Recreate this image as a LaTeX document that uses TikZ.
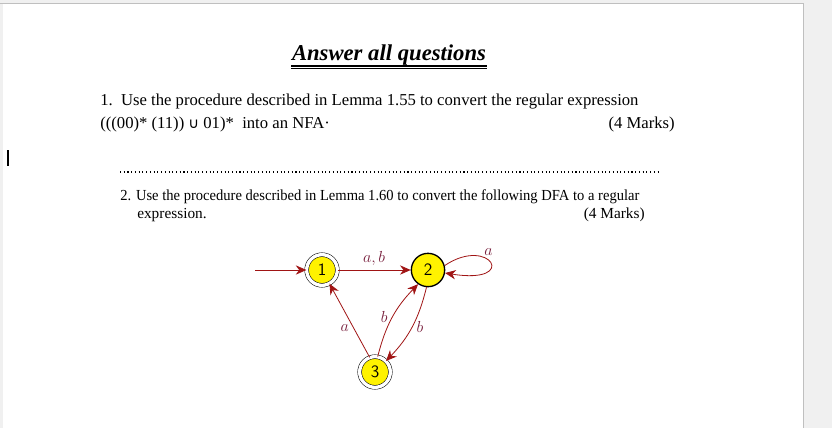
\documentclass[tikz,border=0pt]{standalone}
\usepackage{fontspec}
\setmainfont{Liberation Serif}
\newfontfamily\symfont{DejaVu Sans}
\usetikzlibrary{arrows.meta}
\definecolor{edge}{RGB}{160,20,20}
\definecolor{lab}{RGB}{120,30,60}
\tikzset{
 st/.style={circle,draw,fill=yellow,minimum size=23pt,inner sep=0pt,font=\sffamily\fontsize{13}{13}\selectfont},
 acc/.style={st,double,double distance=2.5pt},
 tr/.style={draw=edge,-{Stealth[length=8pt,width=7pt]},line width=0.6pt},
 lb/.style={text=lab,font=\fontsize{13}{13}\selectfont},
 q/.style={anchor=base west,font=\fontsize{12.5}{13}\selectfont,inner sep=0pt},
 q2/.style={anchor=base west,font=\fontsize{11.5}{12}\selectfont,inner sep=0pt}
}
\begin{document}
\begin{tikzpicture}[x=0.75pt,y=-0.75pt]
\useasboundingbox (0,0) rectangle (832,428);
\fill[gray!12] (0,0) rectangle (832,428);
\fill[white] (3,4) rectangle (803,428);
\draw[gray!50] (0,3.5) -- (803,3.5) -- (803,428);
\draw[line width=0.8pt] (8,150) -- (8,166);
\node[font=\bfseries\itshape\fontsize{17}{17}\selectfont,inner sep=0pt] (title) at (389,55) {Answer all questions};
\draw[line width=1.2pt] (291,66) -- (487,66);
\draw[line width=0.5pt] (291,68.5) -- (487,68.5);
\node[q] (a1) at (100,105) {1.\ \ Use the procedure described in Lemma 1.55 to convert the regular expression};
\node[q] (a2) at (100,128) {(((00)* (11)) {\symfont\fontsize{11}{11}\selectfont ∪} 01)*\ \ into an NFA·};
\node[q,anchor=base east] (a3) at (675,128) {(4 Marks)};
\draw[line width=0.8pt,dotted] (120,172) -- (658,172);
\node[q2] (b1) at (120,200) {\scalebox{0.95}[1]{2. Use the procedure described in Lemma 1.60 to convert the following DFA to a regular}};
\node[q2] (b2) at (137,218) {expression.};
\node[q2,anchor=base east] (b3) at (645,218) {(4 Marks)};
\node[acc] (n1) at (322,270) {1};
\node[st,line width=1pt,minimum size=25pt] (n2) at (428,270) {2};
\node[acc] (n3) at (375,372) {3};
\coordinate (start) at (255,270);
\draw[tr] (start) -- (n1);
\draw[tr] (n1) -- node[lb,above] {$a,b$} (n2);
\draw[tr] (n2.15) .. controls (490,235) and (520,285) .. node[lb,above,pos=0.45] {$a$} (n2.-10);
\draw[tr] (n3.110) -- node[lb,left,pos=0.4] {$a$} (n1);
\draw[tr] (n3.80) to[bend left=15] node[lb,left,pos=0.5] {$b$} (n2.235);
\draw[tr] (n2.265) to[bend left=15] node[lb,right,pos=0.5] {$b$} (n3.45);
\end{tikzpicture}
\end{document}
